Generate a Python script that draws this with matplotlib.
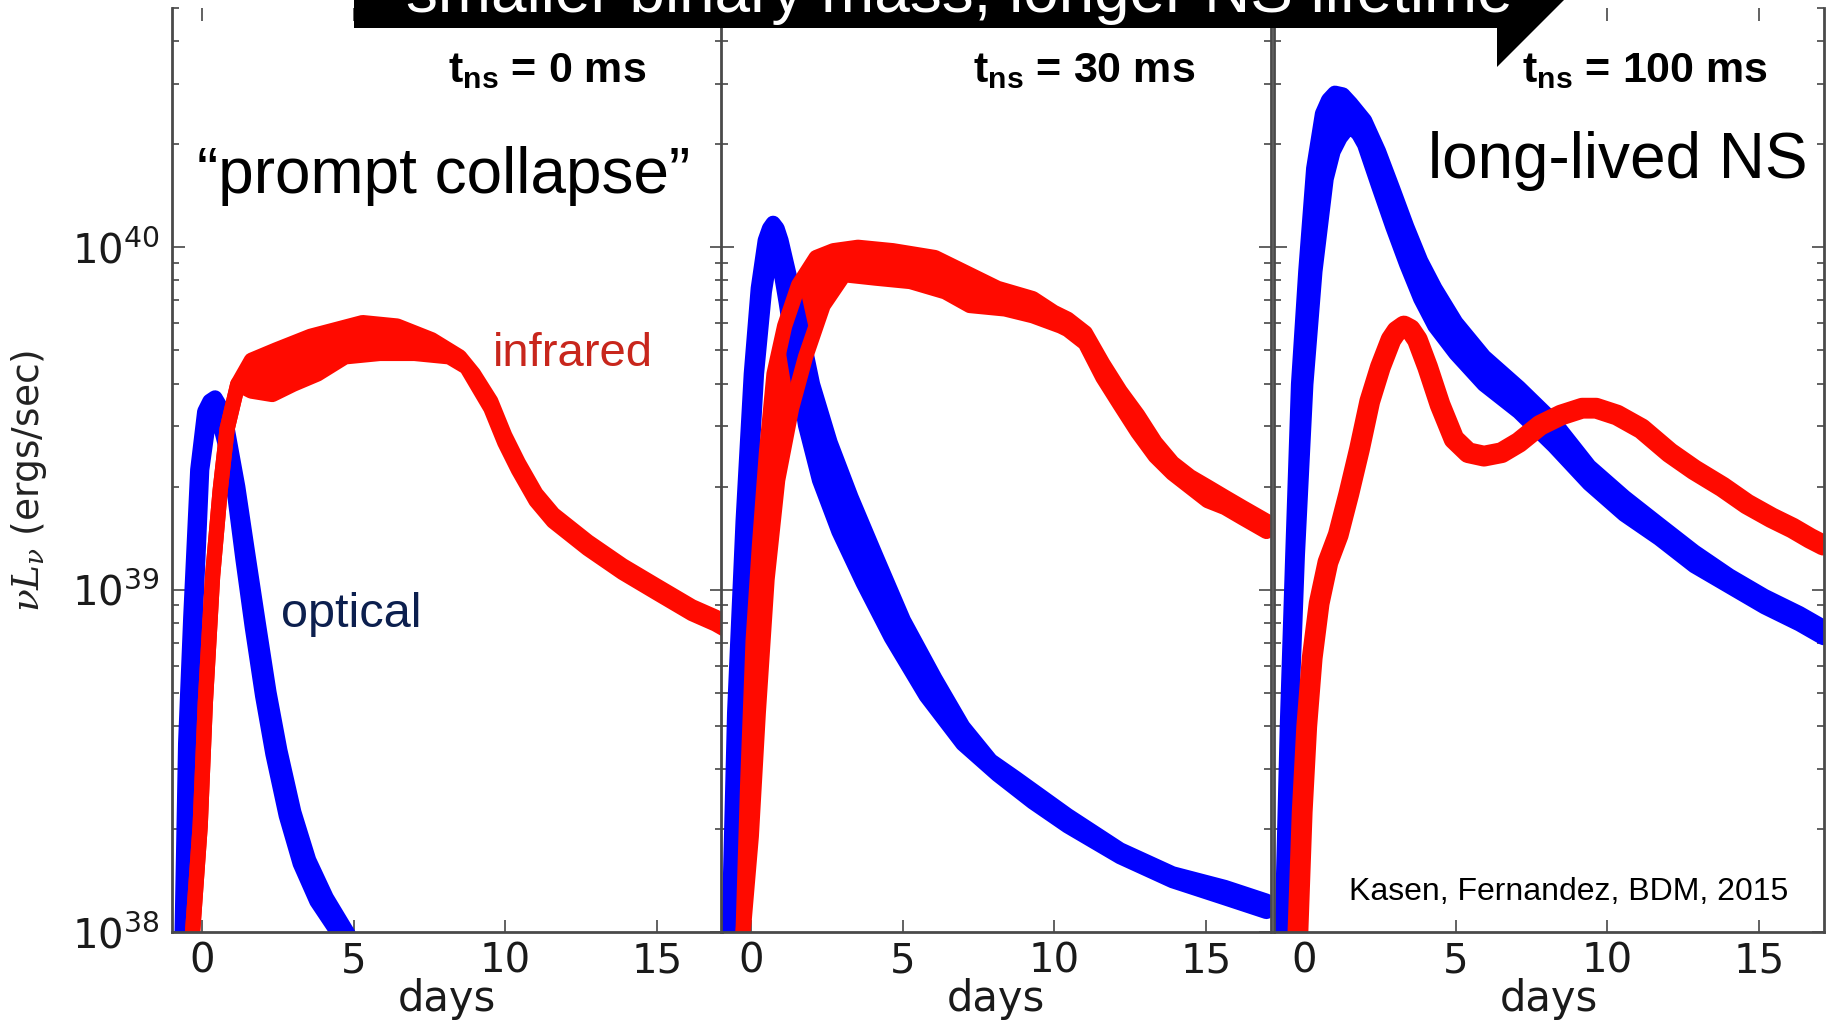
import numpy as np
import matplotlib
matplotlib.use("Agg")
import matplotlib.pyplot as plt
from matplotlib.patches import Polygon
from matplotlib.ticker import LogLocator, NullFormatter, FixedLocator

plt.rcParams["font.family"] = ["DejaVu Sans"]
plt.rcParams["mathtext.fontset"] = "custom"
plt.rcParams["mathtext.rm"] = "DejaVu Sans"
plt.rcParams["mathtext.it"] = "DejaVu Serif:italic"
plt.rcParams["mathtext.bf"] = "Liberation Sans:bold"

# ---------------------------------------------------------------------------
# Light curves: days since merger and log10(nu L_nu / erg s^-1).
# Each band is bounded by two model tracks ("a" and "b").
# ---------------------------------------------------------------------------
tns_labels = ["0", "30", "100"]
xticks = [0, 5, 10, 15]
yticks = [1e38, 1e39, 1e40]

# t_ns = 0 ms : optical
p1_opt_a_day = [-0.69, -0.55, -0.38, -0.15, 0.08, 0.25, 0.42, 0.62, 0.82, 1.17, 1.49, 1.85, 2.20, 2.56, 3.02, 3.51, 4.09, 4.77, 5.17]
p1_opt_a_log = [37.88, 38.55, 38.92, 39.35, 39.52, 39.55, 39.56, 39.53, 39.47, 39.30, 39.11, 38.90, 38.70, 38.53, 38.35, 38.21, 38.10, 38.00, 37.94]
p1_opt_b_day = [-0.57, -0.41, -0.23, -0.02, 0.20, 0.48, 0.80, 1.08, 1.34, 1.65, 1.99, 2.33, 2.77, 3.23, 3.78, 4.46, 4.83]
p1_opt_b_log = [37.88, 38.55, 38.92, 39.35, 39.49, 39.52, 39.41, 39.27, 39.09, 38.89, 38.69, 38.52, 38.34, 38.20, 38.09, 38.00, 37.94]
# t_ns = 0 ms : infrared
p1_ir_a_day = [-0.38, -0.32, -0.07, 0.10, 0.34, 0.59, 0.82, 1.17, 1.62, 2.43, 3.57, 5.29, 6.43, 7.57, 8.49, 8.95,
               9.52, 9.98, 10.43, 11.01, 11.58, 12.72, 13.87, 15.01, 16.16, 16.93, 17.53]
p1_ir_a_log = [37.88, 38.00, 38.31, 38.67, 39.04, 39.29, 39.47, 39.60, 39.67, 39.70, 39.74, 39.78, 39.77, 39.73, 39.68, 39.63,
               39.55, 39.45, 39.37, 39.28, 39.22, 39.14, 39.07, 39.01, 38.95, 38.92, 38.89]
p1_ir_b_day = [-0.38, -0.32, -0.07, 0.10, 0.34, 0.59, 0.82, 1.17, 1.62, 2.31, 3.00, 3.80, 4.71, 5.86, 7.00, 8.15, 8.72,
               9.52, 9.98, 10.43, 11.01, 11.58, 12.72, 13.87, 15.01, 16.16, 16.93, 17.53]
p1_ir_b_log = [37.88, 38.00, 38.31, 38.67, 39.04, 39.29, 39.47, 39.60, 39.58, 39.57, 39.60, 39.63, 39.68, 39.69, 39.69, 39.68, 39.65,
               39.53, 39.43, 39.35, 39.26, 39.20, 39.12, 39.05, 38.99, 38.93, 38.90, 38.87]

# t_ns = 30 ms : optical
p2_opt_a_day = [-0.77, -0.73, -0.55, -0.27, 0.00, 0.23, 0.46, 0.60, 0.72, 0.85, 0.98, 1.27, 1.62, 2.02, 2.60, 3.29, 4.10, 5.02,
                6.06, 6.98, 7.90, 8.71, 10.44, 12.17, 13.90, 15.63, 17.00]
p2_opt_a_log = [37.86, 38.00, 38.64, 39.20, 39.63, 39.88, 40.02, 40.055, 40.07, 40.055, 40.02, 39.91, 39.77, 39.60, 39.43, 39.27, 39.10, 38.91,
                38.74, 38.60, 38.50, 38.45, 38.34, 38.24, 38.17, 38.13, 38.09]
p2_opt_b_day = [-0.64, -0.59, -0.40, -0.10, 0.17, 0.43, 0.61, 0.75, 0.92, 1.15, 1.44, 1.79, 2.25, 2.89, 3.69, 4.62,
                5.77, 6.98, 8.13, 9.29, 10.44, 12.17, 13.90, 15.63, 17.00]
p2_opt_b_log = [37.86, 38.00, 38.64, 39.20, 39.63, 39.87, 39.97, 40.00, 39.96, 39.84, 39.67, 39.48, 39.32, 39.17, 39.02, 38.86,
                38.69, 38.55, 38.46, 38.38, 38.31, 38.22, 38.15, 38.10, 38.06]
# t_ns = 30 ms : infrared
p2_ir_a_day = [-0.29, -0.27, -0.12, 0.06, 0.27, 0.50, 0.75, 1.10, 1.56, 2.14, 2.71, 3.52, 4.67, 6.06, 6.98, 8.13, 9.29,
               9.98, 10.44, 11.02, 11.60, 12.17, 12.75, 13.33, 13.90, 14.48, 15.06, 15.63, 16.21, 17.00]
p2_ir_a_log = [37.86, 38.00, 38.43, 38.85, 39.13, 39.40, 39.63, 39.77, 39.89, 39.97, 39.99, 40.00, 39.99, 39.97, 39.93, 39.88, 39.85,
               39.81, 39.79, 39.75, 39.66, 39.58, 39.51, 39.43, 39.37, 39.33, 39.30, 39.27, 39.24, 39.20]
p2_ir_b_day = [-0.29, -0.27, 0.00, 0.23, 0.52, 0.87, 1.33, 1.79, 2.37, 3.06, 4.10, 5.25, 6.40, 7.21, 8.37, 9.29, 10.21,
               10.44, 11.02, 11.60, 12.17, 12.75, 13.33, 13.90, 14.48, 15.06, 15.63, 16.21, 17.00]
p2_ir_b_log = [37.86, 38.00, 38.28, 38.64, 39.03, 39.32, 39.53, 39.68, 39.83, 39.92, 39.91, 39.90, 39.87, 39.83, 39.82, 39.80, 39.77,
               39.76, 39.72, 39.62, 39.54, 39.46, 39.39, 39.34, 39.30, 39.26, 39.24, 39.21, 39.17]

# t_ns = 100 ms : optical
p3_opt_a_day = [-0.79, -0.73, -0.56, -0.38, -0.19, 0.05, 0.31, 0.60, 0.80, 1.01, 1.27, 1.53, 1.99, 2.45, 2.92, 3.38, 3.84, 4.31,
                5.00, 5.93, 7.08, 8.24, 9.40, 10.56, 11.71, 12.87, 14.03, 15.19, 16.34, 17.13]
p3_opt_a_log = [37.85, 38.00, 38.60, 39.10, 39.60, 39.93, 40.23, 40.39, 40.43, 40.45, 40.445, 40.42, 40.37, 40.28, 40.17, 40.06, 39.96, 39.88,
                39.78, 39.68, 39.59, 39.49, 39.36, 39.27, 39.19, 39.11, 39.04, 38.98, 38.93, 38.89]
p3_opt_b_day = [-0.67, -0.61, -0.44, -0.23, 0.05, 0.35, 0.72, 0.95, 1.18, 1.40, 1.59, 1.80, 1.99, 2.45, 2.92, 3.38, 3.84, 4.31, 5.00,
                5.93, 7.08, 8.24, 9.40, 10.56, 11.71, 12.87, 14.03, 15.19, 16.34, 17.13]
p3_opt_b_log = [37.85, 38.00, 38.60, 39.10, 39.60, 39.93, 40.20, 40.28, 40.32, 40.345, 40.35, 40.33, 40.30, 40.18, 40.06, 39.95, 39.85, 39.77, 39.69,
                39.60, 39.52, 39.42, 39.31, 39.22, 39.15, 39.07, 39.01, 38.95, 38.90, 38.86]
# t_ns = 100 ms : infrared
p3_ir_day = [-0.27, -0.21, -0.07, 0.08, 0.26, 0.49, 0.78, 1.12, 1.47, 1.82, 2.16, 2.51, 2.86, 3.05, 3.29, 3.50, 3.73, 4.07, 4.48,
             4.94, 5.41, 5.93, 6.51, 7.08, 7.78, 8.47, 9.17, 9.63, 10.32, 11.13, 12.06, 12.87, 13.80, 14.61, 15.42,
             16.11, 16.69, 17.13]
p3_ir_log = [37.85, 38.00, 38.35, 38.60, 38.80, 38.96, 39.08, 39.16, 39.28, 39.41, 39.55, 39.65, 39.73, 39.755, 39.77, 39.76, 39.73, 39.65, 39.54,
             39.44, 39.40, 39.39, 39.40, 39.43, 39.48, 39.51, 39.53, 39.53, 39.51, 39.47, 39.40, 39.35, 39.30, 39.25, 39.21,
             39.18, 39.15, 39.13]

BLUE = "#0000ff"
RED = "#ff0a00"
W, H = 1839, 1029


def fx(px):
    return px / W


def fy(py):
    return 1.0 - py / H


def band(ax, da, la, db, lb, color, lw):
    da, la, db, lb = (np.asarray(v, float) for v in (da, la, db, lb))
    xs = np.concatenate([da, db[::-1]])
    ys = np.power(10.0, np.concatenate([la, lb[::-1]]))
    ax.fill(xs, ys, color=color, lw=0)
    for d, l in ((da, la), (db, lb)):
        ax.plot(d, np.power(10.0, l), color=color, lw=lw,
                solid_joinstyle="round", solid_capstyle="round")


fig = plt.figure(figsize=(W / 100, H / 100), dpi=100)

ax_left_px = [172, 721, 1274]
ax_w_px = 550
ax_top_px, ax_bot_px = 8, 932
axes = []
for i, lp in enumerate(ax_left_px):
    ax = fig.add_axes([fx(lp), fy(ax_bot_px), ax_w_px / W, (ax_bot_px - ax_top_px) / H])
    ax.set_yscale("log")
    ax.set_xlim(-1.0, 17.15)
    ax.set_ylim(1e38, 5e40)
    ax.xaxis.set_major_locator(FixedLocator(xticks))
    ax.yaxis.set_major_locator(FixedLocator(yticks))
    ax.yaxis.set_minor_locator(LogLocator(base=10, subs=np.arange(2, 10)))
    ax.yaxis.set_minor_formatter(NullFormatter())
    ax.spines["top"].set_visible(False)
    for s in ("left", "right", "bottom"):
        ax.spines[s].set_linewidth(2.0)
        ax.spines[s].set_color("#4a4a4a")
    ax.tick_params(which="both", direction="in", top=True, right=True, left=True, bottom=True,
                   color="#555555", width=1.3)
    ax.tick_params(which="major", length=9)
    ax.tick_params(which="minor", length=5)
    ax.tick_params(axis="x", labelsize=29, pad=7, labelcolor="#1a1a1a")
    ax.tick_params(axis="y", labelsize=29, pad=9, labelcolor="#1a1a1a", labelleft=(i == 0))
    axes.append(ax)

ax1, ax2, ax3 = axes

band(ax1, p1_opt_a_day, p1_opt_a_log, p1_opt_b_day, p1_opt_b_log, BLUE, 11)
band(ax1, p1_ir_a_day, p1_ir_a_log, p1_ir_b_day, p1_ir_b_log, RED, 11)

band(ax2, p2_opt_a_day, p2_opt_a_log, p2_opt_b_day, p2_opt_b_log, BLUE, 11)
band(ax2, p2_ir_a_day, p2_ir_a_log, p2_ir_b_day, p2_ir_b_log, RED, 11)

band(ax3, p3_opt_a_day, p3_opt_a_log, p3_opt_b_day, p3_opt_b_log, BLUE, 11)
ax3.plot(p3_ir_day, np.power(10.0, p3_ir_log), color=RED, lw=15,
         solid_joinstyle="round", solid_capstyle="round")

# axis labels
fig.text(fx(29), fy(481), r"$\nu L_\nu$ (ergs/sec)", rotation=90, ha="center", va="center",
         fontsize=27, color="#222222")
for lp in ax_left_px:
    fig.text(fx(lp + ax_w_px / 2), fy(1011), "days", ha="center", va="baseline",
             fontsize=30, color="#1a1a1a")

# panel headers
for cx, lab in zip([547, 1084, 1645], tns_labels):
    fig.text(fx(cx), fy(82), r"$\mathbf{t_{ns}}$ = " + lab + " ms", ha="center", va="baseline",
             fontsize=31, fontweight="bold", family="Liberation Sans", color="black", zorder=5)

# annotations
fig.text(fx(197), fy(193), "\u201cprompt collapse\u201d", ha="left", va="baseline",
         fontsize=46, family="Liberation Sans", color="black")
fig.text(fx(1428), fy(178), "long-lived NS", ha="left", va="baseline",
         fontsize=46, family="Liberation Sans", color="black")
fig.text(fx(493), fy(366), "infrared", ha="left", va="baseline",
         fontsize=34, family="Liberation Sans", color="#c8261c")
fig.text(fx(281), fy(627), "optical", ha="left", va="baseline",
         fontsize=35, family="Liberation Sans", color="#0c1f4e")
fig.text(fx(1349), fy(900), "Kasen, Fernandez, BDM, 2015", ha="left", va="baseline",
         fontsize=23, family="Liberation Sans", color="black")

# banner arrow across the top
arrow_px = [(354, -30), (354, 28), (1497, 28), (1497, 67), (1594, -30)]
banner = Polygon([(fx(x), fy(y)) for x, y in arrow_px], closed=True,
                 transform=fig.transFigure, facecolor="black", edgecolor="none", zorder=8)
fig.add_artist(banner)
fig.text(fx(959), fy(12), "smaller binary mass, longer NS lifetime", ha="center", va="baseline",
         fontsize=46, family="Liberation Sans", color="white", zorder=9)

fig.savefig("out.png", dpi=100)
